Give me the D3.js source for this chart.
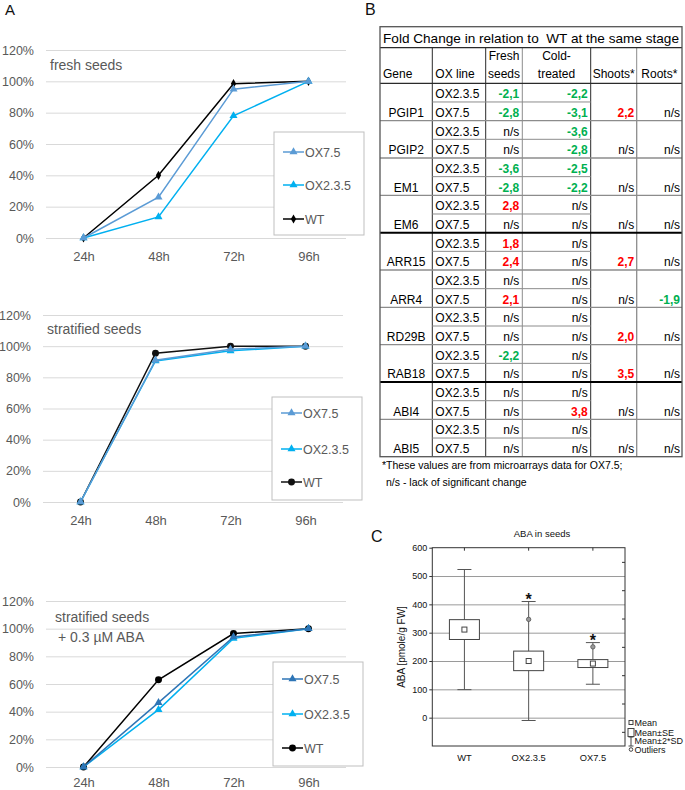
<!DOCTYPE html>
<html><head><meta charset="utf-8">
<script src="https://cdn.jsdelivr.net/npm/d3@7"></script>
<style>body{margin:0;background:#fff}svg{display:block}</style>
</head><body><svg id="c" width="685" height="790"></svg>
<script>
// ---------- Panel A data ----------
const timepoints = ["24h","48h","72h","96h"];
const pctTicks = [0,20,40,60,80,100,120];
const freshOX75  = [0,26,95,100];
const freshOX235 = [0,13.5,78,100];
const freshWT    = [0,40,98.5,100];
const stratOX75  = [0,91,98,100];
const stratOX235 = [0,90.5,97,100];
const stratWT    = [0,95.5,100,100];
const abaOX75    = [0,46.5,94,100];
const abaOX235   = [0,41.5,93,100];
const abaWT      = [0,63,96.5,100];

// ---------- Panel B data ----------
const tableTitle = "Fold Change in relation to  WT at the same stage";
const genes = ["PGIP1","PGIP2","EM1","EM6","ARR15","ARR4","RD29B","RAB18","ABI4","ABI5"];
const oxLines = ["OX2.3.5","OX7.5"];
const freshSeedsFC = [["-2,1","-2,8"],["n/s","n/s"],["-3,6","-2,8"],["2,8","n/s"],["1,8","2,4"],["n/s","2,1"],["n/s","n/s"],["-2,2","n/s"],["n/s","n/s"],["n/s","n/s"]];
const coldTreatedFC = [["-2,2","-3,1"],["-3,6","-2,8"],["-2,5","-2,2"],["n/s","n/s"],["n/s","n/s"],["n/s","n/s"],["n/s","n/s"],["n/s","n/s"],["n/s","3,8"],["n/s","n/s"]];
const shootsFC = ["2,2","n/s","n/s","n/s","2,7","n/s","2,0","3,5","n/s","n/s"];
const rootsFC  = ["n/s","n/s","n/s","n/s","n/s","-1,9","n/s","n/s","n/s","n/s"];

// ---------- Panel C data ----------
const abaGroups = ["WT","OX2.3.5","OX7.5"];
const abaTicks = [0,100,200,300,400,500,600];
const abaMean   = [311,200,191];
const abaSELow  = [276,166,177];
const abaSEHigh = [346,235,205];
const abaSDLow  = [99,-10,118];
const abaSDHigh = [523,410,265];
const abaOutlier = [null,347,250];
const abaSignificant = [false,true,true];

const FONT = "'Liberation Sans', Arial, sans-serif";
const svg = d3.select("#c");

// ================= Panel A =================
function lineChart(o) {
  const g = svg.append("g");
  const x = d3.scalePoint().domain(timepoints).range([o.left, o.right]).padding(0.5);
  const y = d3.scaleLinear().domain([0,120]).range([o.y0, o.y120]);
  const ya = g.append("g").attr("transform", `translate(${o.left},0)`)
    .call(d3.axisLeft(y).tickValues(pctTicks).tickFormat(d => d + "%")
      .tickSize(-(o.right - o.left)).tickPadding(12));
  ya.select(".domain").remove();
  ya.selectAll("line").attr("stroke", "#d9d9d9");
  ya.attr("font-family", FONT).attr("font-size", 12.5);
  ya.selectAll("text").attr("fill", "#595959");
  const xa = g.append("g").attr("transform", `translate(0,${o.y0})`)
    .call(d3.axisBottom(x).tickSize(0).tickPadding(o.xPad));
  xa.select(".domain").remove();
  xa.attr("font-family", FONT).attr("font-size", 13);
  xa.selectAll("text").attr("fill", "#595959");

  o.labels.forEach((t, i) => {
    g.append("text").attr("x", o.labelX[i]).attr("y", o.labelY[i]).text(t)
      .attr("font-family", FONT).attr("font-size", 14).attr("fill", "#595959");
  });

  const line = d3.line().x((d, i) => x(timepoints[i])).y(d => y(d));
  o.series.slice().reverse().forEach(s => {
    g.append("path").datum(s.values).attr("d", line).attr("fill", "none")
      .attr("stroke", s.color).attr("stroke-width", 1.5);
    g.selectAll(null).data(s.values).join("path")
      .attr("transform", (d, i) => `translate(${x(timepoints[i])},${y(d)})`)
      .attr("d", d3.symbol(s.sym, s.size)).attr("fill", s.color);
  });

  // legend
  const lg = g.append("g").attr("transform", `translate(${o.legX},${o.legY})`);
  lg.append("rect").attr("width", o.legW).attr("height", o.legH)
    .attr("fill", "#fff").attr("stroke", "#bfbfbf");
  o.series.forEach((s, i) => {
    const yy = o.legRows[i];
    lg.append("line").attr("x1", 9).attr("x2", 30).attr("y1", yy).attr("y2", yy)
      .attr("stroke", s.color).attr("stroke-width", 1.5);
    lg.append("path").attr("transform", `translate(19.5,${yy})`)
      .attr("d", d3.symbol(s.sym, s.size)).attr("fill", s.color);
    lg.append("text").attr("x", 31).attr("y", yy + 4.5).text(s.name)
      .attr("font-family", FONT).attr("font-size", 12.5).attr("fill", "#595959");
  });
}

const tri = d3.symbolTriangle, dia = d3.symbolDiamond, cir = d3.symbolCircle;
lineChart({left:46, right:346, y0:238, y120:50, xPad:14,
  labels:["fresh seeds"], labelX:[50], labelY:[70],
  legX:274, legY:132, legW:90, legH:103, legRows:[20,53,87],
  series:[
    {name:"OX7.5", values:freshOX75, color:"#5b9bd5", sym:tri, size:28},
    {name:"OX2.3.5", values:freshOX235, color:"#00b0f0", sym:tri, size:28},
    {name:"WT", values:freshWT, color:"#000", sym:dia, size:24}]});
lineChart({left:43, right:343, y0:502, y120:315, xPad:14,
  labels:["stratified seeds"], labelX:[47], labelY:[334],
  legX:272, legY:397, legW:90, legH:103, legRows:[16,52,85],
  series:[
    {name:"OX7.5", values:stratOX75, color:"#5b9bd5", sym:tri, size:28},
    {name:"OX2.3.5", values:stratOX235, color:"#00b0f0", sym:tri, size:28},
    {name:"WT", values:stratWT, color:"#111", sym:cir, size:38}]});
lineChart({left:46, right:346, y0:767, y120:601, xPad:11,
  labels:["stratified seeds","+ 0.3 \u00b5M ABA"], labelX:[55,58], labelY:[622,642],
  legX:273, legY:662, legW:90, legH:104, legRows:[17,52,86],
  series:[
    {name:"OX7.5", values:abaOX75, color:"#2e75b6", sym:tri, size:28},
    {name:"OX2.3.5", values:abaOX235, color:"#00b0f0", sym:tri, size:28},
    {name:"WT", values:abaWT, color:"#000", sym:cir, size:38}]});

svg.append("text").attr("x", 5).attr("y", 15).text("A")
  .attr("font-family", FONT).attr("font-size", 15).attr("fill", "#111");

// ================= Panel B =================
(function table() {
  const g = svg.append("g").attr("font-family", FONT);
  const cx = [380, 432.3, 485.7, 522.3, 590.7, 636.7, 682];
  const top = 26.7, titleB = 47.7, headB = 83.3, rowH = 18.67;
  const bodyB = headB + rowH * 2 * genes.length;
  const dark = "#2a2a2a", grey = "#8c8c8c";
  const ln = (x1,y1,x2,y2,c,w) => g.append("line").attr("x1",x1).attr("y1",y1)
    .attr("x2",x2).attr("y2",y2).attr("stroke",c).attr("stroke-width",w||1);

  [1,2,3,4,5].forEach(i => ln(cx[i], titleB, cx[i], headB, (i===1||i===2||i===4)?dark:grey));
  [1,2,3,4,5].forEach(i => ln(cx[i], headB, cx[i], bodyB, (i===3||i===5)?grey:dark, (i===5)?1.3:1));
  genes.forEach((gn, k) => {
    const yy = headB + rowH * (2*k + 1);
    ln(cx[1], yy, cx[4], yy, grey, 1);
  });
  genes.forEach((gn, k) => {
    if (k === 0) return;
    const yy = headB + rowH * 2 * k;
    const thick = (gn === "ARR15" || gn === "ABI4");
    ln(cx[0], yy, cx[6], yy, thick ? "#000" : grey, thick ? 2 : 1.3);
  });
  ln(cx[0], titleB, cx[6], titleB, dark, 1.2);
  ln(cx[0], headB, cx[6], headB, dark, 1.2);
  g.append("rect").attr("x", cx[0]).attr("y", top).attr("width", cx[6]-cx[0])
    .attr("height", bodyB - top).attr("fill", "none").attr("stroke", "#555").attr("stroke-width", 1.3);

  g.append("text").attr("x", (cx[0]+cx[6])/2).attr("y", 43).attr("text-anchor","middle")
    .style("white-space", "pre").attr("xml:space", "preserve")
    .attr("font-size", 13.6).attr("fill","#000").text(tableTitle);

  const hdr = (t, x, y, anchor) => g.append("text").attr("x", x).attr("y", y)
    .attr("text-anchor", anchor).attr("font-size", 12).attr("fill", "#000").text(t);
  hdr("Gene", cx[0]+3, 78, "start");
  hdr("OX line", cx[1]+3, 78, "start");
  hdr("Fresh", (cx[2]+cx[3])/2, 60, "middle");
  hdr("seeds", (cx[2]+cx[3])/2, 78, "middle");
  hdr("Cold-", (cx[3]+cx[4])/2, 60, "middle");
  hdr("treated", (cx[3]+cx[4])/2, 78, "middle");
  hdr("Shoots*", (cx[4]+cx[5])/2, 78, "middle");
  hdr("Roots*", (cx[5]+cx[6])/2, 78, "middle");

  const val = (t, x, y) => {
    const ns = t === "n/s";
    const neg = t.startsWith("-");
    g.append("text").attr("x", x).attr("y", y).attr("text-anchor", "end")
      .attr("font-size", 12).attr("font-weight", ns ? "normal" : "bold")
      .attr("fill", ns ? "#000" : (neg ? "#00b050" : "#ff0000")).text(t);
  };
  genes.forEach((gn, k) => {
    const b0 = headB + rowH * 2 * k + 15, b1 = b0 + rowH;
    g.append("text").attr("x", (cx[0]+cx[1])/2).attr("y", b1).attr("text-anchor","middle")
      .attr("font-size", 12).attr("fill","#000").text(gn);
    oxLines.forEach((ox, j) => {
      const yy = j === 0 ? b0 : b1;
      g.append("text").attr("x", cx[1]+3).attr("y", yy).attr("font-size", 12)
        .attr("fill","#000").text(ox);
      val(freshSeedsFC[k][j], cx[3]-3, yy);
      val(coldTreatedFC[k][j], cx[4]-3, yy);
    });
    val(shootsFC[k], cx[5]-2.5, b1);
    val(rootsFC[k], cx[6]-2, b1);
  });

  g.append("text").attr("x", 382).attr("y", 469).attr("font-size", 10.5).attr("fill","#000")
    .text("*These values are from microarrays data for OX7.5;");
  g.append("text").attr("x", 386).attr("y", 486).attr("font-size", 10.5).attr("fill","#000")
    .text("n/s - lack of significant change");

  svg.append("text").attr("x", 365).attr("y", 15).text("B")
    .attr("font-family", FONT).attr("font-size", 16).attr("fill", "#111");
})();

// ================= Panel C =================
(function boxes() {
  const g = svg.append("g").attr("font-family", FONT);
  const L = 432.3, R = 625, T = 547.7, B = 746;
  const x = d3.scaleBand().domain(abaGroups).range([L, R]);
  const y = d3.scaleLinear().domain([-100, 600]).range([B, T]);

  g.append("g").attr("transform", `translate(${L},0)`)
    .call(d3.axisLeft(y).tickValues(abaTicks.filter(d => d < 600)).tickSize(-(R-L)).tickFormat(""))
    .call(a => a.select(".domain").remove())
    .selectAll("line").attr("stroke", "#9a9a9a");
  const ya = g.append("g").attr("transform", `translate(${L},0)`)
    .call(d3.axisLeft(y).tickValues(abaTicks).tickSize(3).tickPadding(2));
  ya.select(".domain").remove();
  ya.attr("font-family", FONT).attr("font-size", 9);
  ya.selectAll("line").attr("stroke", "#333");
  ya.selectAll("text").attr("fill", "#111");
  g.append("g").attr("transform", `translate(0,${T})`)
    .call(d3.axisTop(x).tickSize(-3).tickFormat(""))
    .call(a => a.select(".domain").remove()).selectAll("line").attr("stroke","#333");
  g.append("g").attr("transform", `translate(${R},0)`)
    .call(d3.axisRight(y).tickValues([-50,50,150,250,350,450,550]).tickSize(-3).tickFormat(""))
    .call(a => a.select(".domain").remove()).selectAll("line").attr("stroke","#333");
  const xa = g.append("g").attr("transform", `translate(0,${B})`)
    .call(d3.axisBottom(x).tickSize(0).tickPadding(8));
  xa.select(".domain").remove();
  xa.attr("font-family", FONT).attr("font-size", 9.3);
  xa.selectAll("text").attr("fill", "#111");

  g.append("rect").attr("x", L).attr("y", T).attr("width", R-L).attr("height", B-T)
    .attr("fill", "none").attr("stroke", "#333");

  const bw = 30, cap = 14;
  abaGroups.forEach((grp, i) => {
    const cxp = x(grp) + x.bandwidth()/2;
    g.append("line").attr("x1", cxp).attr("x2", cxp).attr("y1", y(abaSDLow[i])).attr("y2", y(abaSDHigh[i]))
      .attr("stroke", "#555");
    [abaSDLow[i], abaSDHigh[i]].forEach(v => g.append("line").attr("x1", cxp-cap/2).attr("x2", cxp+cap/2)
      .attr("y1", y(v)).attr("y2", y(v)).attr("stroke", "#555"));
    g.append("rect").attr("x", cxp-bw/2).attr("width", bw).attr("y", y(abaSEHigh[i]))
      .attr("height", y(abaSELow[i]) - y(abaSEHigh[i])).attr("fill", "#fff").attr("stroke", "#444");
    g.append("rect").attr("x", cxp-2.5).attr("y", y(abaMean[i])-2.5).attr("width", 5).attr("height", 5)
      .attr("fill", "#fff").attr("stroke", "#444");
    if (abaOutlier[i] !== null) {
      g.append("circle").attr("cx", cxp).attr("cy", y(abaOutlier[i])).attr("r", 2.2)
        .attr("fill", "#999").attr("stroke", "#555").attr("stroke-width", 0.8);
    }
    if (abaSignificant[i]) {
      g.append("text").attr("x", cxp).attr("y", y(abaSDHigh[i]) + 3).attr("text-anchor", "middle")
        .attr("font-size", 16).attr("font-weight", "bold").attr("fill", "#111").text("*");
    }
  });

  g.append("text").attr("x", 542).attr("y", 537).attr("text-anchor", "middle")
    .attr("font-size", 9.5).attr("fill", "#111").text("ABA in seeds");
  g.append("text").attr("transform", "translate(405,647) rotate(-90)").attr("text-anchor", "middle")
    .attr("font-size", 10).attr("fill", "#111").text("ABA [pmole/g FW]");

  const lx = 631;
  g.append("rect").attr("x", lx-2).attr("y", 720.5).attr("width", 4).attr("height", 4)
    .attr("fill", "#fff").attr("stroke", "#444");
  g.append("rect").attr("x", lx-3).attr("y", 728.5).attr("width", 6).attr("height", 8)
    .attr("fill", "#fff").attr("stroke", "#444");
  g.append("line").attr("x1", lx).attr("x2", lx).attr("y1", 737).attr("y2", 746).attr("stroke", "#444");
  g.append("line").attr("x1", lx-2.5).attr("x2", lx+2.5).attr("y1", 737).attr("y2", 737).attr("stroke", "#444");
  g.append("line").attr("x1", lx-2.5).attr("x2", lx+2.5).attr("y1", 746).attr("y2", 746).attr("stroke", "#444");
  g.append("circle").attr("cx", lx).attr("cy", 749.5).attr("r", 1.8).attr("fill", "#fff").attr("stroke", "#444");
  [["Mean",726],["Mean\u00b1SE",735.5],["Mean\u00b12*SD",744],["Outliers",752.5]].forEach(([t, yy]) =>
    g.append("text").attr("x", 634.5).attr("y", yy).attr("font-size", 9).attr("fill", "#111").text(t));

  svg.append("text").attr("x", 371).attr("y", 542).text("C")
    .attr("font-family", FONT).attr("font-size", 16).attr("fill", "#111");
})();
</script></body></html>
